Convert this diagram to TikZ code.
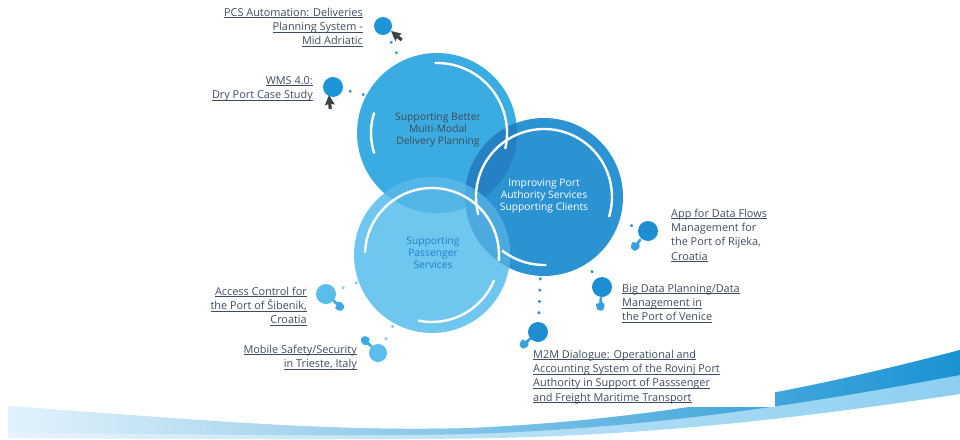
\documentclass[tikz,border=0pt]{standalone}
\usepackage{fontspec}
\setmainfont{Open Sans}
\usetikzlibrary{calc}
\pgfdeclarelayer{bg}
\pgfsetlayers{bg,main}
\definecolor{cA}{HTML}{3AACE1}
\definecolor{cB}{HTML}{2C93D2}
\definecolor{cC}{HTML}{6FC7EF}
\definecolor{cAB}{HTML}{2581C3}
\definecolor{cAC}{HTML}{52B6E7}
\definecolor{cBC}{HTML}{4CAAE0}
\definecolor{satA}{HTML}{1C95D9}
\definecolor{satB}{HTML}{1E8ED3}
\definecolor{satC}{HTML}{5BBDEB}
\definecolor{dotA}{HTML}{2C9FDB}
\definecolor{dotB}{HTML}{2A8FD0}
\definecolor{dotC}{HTML}{7FCBEF}
\definecolor{handB}{HTML}{3B9FDD}
\definecolor{handC}{HTML}{3FA9E3}
\definecolor{ptrcol}{HTML}{3C4248}
\definecolor{lblcol}{HTML}{3F4C62}
\definecolor{txtA}{HTML}{414B58}
\definecolor{txtC}{HTML}{1F80C8}
\definecolor{swLa}{HTML}{E6F3FB}
\definecolor{swMa}{HTML}{A8DCF4}
\definecolor{swRa}{HTML}{8DCFF0}
\definecolor{swLb}{HTML}{E3F2FB}
\definecolor{swMb}{HTML}{2DB0E4}
\definecolor{swRb}{HTML}{1A93D3}
\newcommand\uln[1]{\underline{\smash{#1}}}
\newcommand\sml[1]{\smash{#1}}
\tikzset{
  bigc/.style={circle, minimum size=#1, inner sep=0pt},
  satc/.style={circle, minimum size=#1, inner sep=0pt},
  lbl/.style={inner sep=0pt, font=\fontsize{10.9}{14.3}\selectfont, text=lblcol},
  ctext/.style={inner sep=0pt, font=\fontsize{10.3}{12.3}\selectfont, align=center, anchor=north},
  dotcon/.style={line width=3.2pt, line cap=round, dash pattern=on 0.2pt off #1},
  warc/.style={white, line width=2.4pt},
  pointer/.pic={\fill (0,0) -- (-5,10) -- (-1.6,9) -- (-1.6,14) -- (1.6,14) -- (1.6,9) -- (5,10) -- cycle;},
  hand/.pic={\fill[rounded corners=1pt] (-1.3,0) -- (1.3,0) -- (1.3,5) -- (4.2,6.5) -- (4.2,10.5) -- (2.8,13.5) -- (-2.2,13.5) -- (-4.2,9.5) -- (-4.2,6.5) -- (-1.3,7) -- cycle;}
}
\begin{document}
\begin{tikzpicture}[x=1pt,y=-1pt]
\useasboundingbox (0,0) rectangle (960,439);
% bottom swoosh
\shade[left color=swLa, middle color=swMa, right color=swRa]
  (8,406) .. controls (200,420) and (330,432) .. (470,428) .. controls (650,420) and (800,392) .. (960,350)
  -- (960,394) .. controls (800,418) and (650,436) .. (470,438.5) .. controls (330,440) and (150,439) .. (8,438) -- cycle;
\shade[left color=swLb, middle color=swMb, right color=swRb]
  (8,406) .. controls (200,420) and (330,432) .. (470,428) .. controls (650,420) and (800,392) .. (960,350)
  -- (960,375) .. controls (800,405) and (650,428) .. (470,434) .. controls (330,437) and (150,434) .. (8,432) -- cycle;
\fill[white] (520,345) rectangle (775,406.5);
% big circles
\node[bigc=160pt, fill=cA] (c1) at (437,133) {};
\node[bigc=158pt, fill=cB] (c2) at (544,197) {};
\node[bigc=156pt, fill=cC] (c3) at (432,255) {};
\begin{scope}\clip (c1.center) circle[radius=80pt]; \fill[cAB] (c2.center) circle[radius=79pt];\end{scope}
\begin{scope}\clip (c1.center) circle[radius=80pt]; \fill[cAC] (c3.center) circle[radius=78pt];\end{scope}
\begin{scope}\clip (c2.center) circle[radius=79pt]; \fill[cBC] (c3.center) circle[radius=78pt];\end{scope}
% white arcs
\draw[warc] ($(c1.center)+(92:70pt)$) arc[start angle=92, end angle=-13, radius=70pt];
\draw[warc] ($(c1.center)+(162:66pt)$) arc[start angle=162, end angle=198, radius=66pt];
\draw[warc] ($(c2.center)+(195:68pt)$) arc[start angle=195, end angle=-17, radius=68pt];
\draw[warc] ($(c2.center)+(232:68pt)$) arc[start angle=232, end angle=272, radius=68pt];
\draw[warc] ($(c3.center)+(178:67pt)$) arc[start angle=178, end angle=-5, radius=67pt];
\draw[warc] ($(c3.center)+(258:67pt)$) arc[start angle=258, end angle=338, radius=67pt];
% circle texts
\node[ctext, text=txtA] (t1) at (438,120) {\sml{Supporting Better}\\\sml{Multi-Modal}\\\sml{Delivery Planning}};
\node[ctext, text=white] (t2) at (544,186) {\sml{Improving Port}\\\sml{Authority Services}\\\sml{Supporting Clients}};
\node[ctext, text=txtC] (t3) at (433,244) {\sml{Supporting}\\\sml{Passenger}\\\sml{Services}};
% satellites
\node[satc=18pt, fill=satA] (s1) at (383,26) {};
\node[satc=20pt, fill=satA] (s2) at (333,87) {};
\node[satc=20pt, fill=satC] (s3) at (326,294) {};
\node[satc=18pt, fill=satC] (s4) at (378,353) {};
\node[satc=20pt, fill=satB] (s5) at (648,231) {};
\node[satc=20pt, fill=satB] (s6) at (602,287) {};
\node[satc=20pt, fill=satB] (s7) at (538,332) {};
% dotted connectors
\begin{pgfonlayer}{bg}
\draw[dotcon=11.4pt, dotA, shorten <=9pt] (s1) -- (c1);
\draw[dotcon=13.2pt, dotA, shorten <=7.4pt] (s2) -- (c1.152);
\draw[dotcon=13.8pt, dotC, shorten <=8pt] (s3) -- (c3);
\draw[dotcon=13.8pt, dotC, shorten <=7pt] (s4) -- (c3);
\draw[dotcon=13.8pt, dotB, shorten <=7pt] (s5) -- (c2);
\draw[dotcon=13.8pt, dotB, shorten <=8pt] (s6) -- (c2);
\draw[dotcon=11.1pt, dotB, shorten <=9pt] (s7) -- (c2);
\end{pgfonlayer}
% cursors
\pic[rotate=50, color=ptrcol] at (391,31) {pointer};
\pic[rotate=5, color=ptrcol] at (329,95) {pointer};
\pic[rotate=45, color=handC] at (333,300) {hand};
\pic[rotate=-135, color=handC] at (372,347) {hand};
\pic[rotate=-40, color=handB] at (641,239) {hand};
\pic[rotate=-5, color=handB] at (601,297) {hand};
\pic[rotate=-50, color=handB] at (531,338) {hand};
% labels
\node[lbl, anchor=north east, align=right] (l1) at (363,16) {\uln{PCS Automation: Deliveries}\\\uln{Planning System -}\\\uln{Mid Adriatic}};
\node[lbl, anchor=north east, align=right] (l2) at (313,84) {\uln{WMS 4.0:}\\\uln{Dry Port Case Study}};
\node[lbl, anchor=north east, align=right] (l3) at (307,295) {\uln{Access Control for}\\\uln{the Port of Šibenik,}\\\uln{Croatia}};
\node[lbl, anchor=north east, align=right] (l4) at (357,353) {\uln{Mobile Safety/Security}\\\uln{in Trieste, Italy}};
\node[lbl, anchor=north west, align=left] (l5) at (671,217) {\uln{App for Data Flows}\\\sml{Management for}\\\sml{the Port of Rijeka,}\\\uln{Croatia}};
\node[lbl, anchor=north west, align=left] (l6) at (622,292) {\uln{Big Data Planning/Data}\\\uln{Management in}\\\uln{the Port of Venice}};
\node[lbl, anchor=north west, align=left] (l7) at (533,358) {\uln{M2M Dialogue: Operational and}\\\uln{Accounting System of the Rovinj Port}\\\uln{Authority in Support of Passsenger}\\\uln{and Freight Maritime Transport}};
\end{tikzpicture}
\end{document}
